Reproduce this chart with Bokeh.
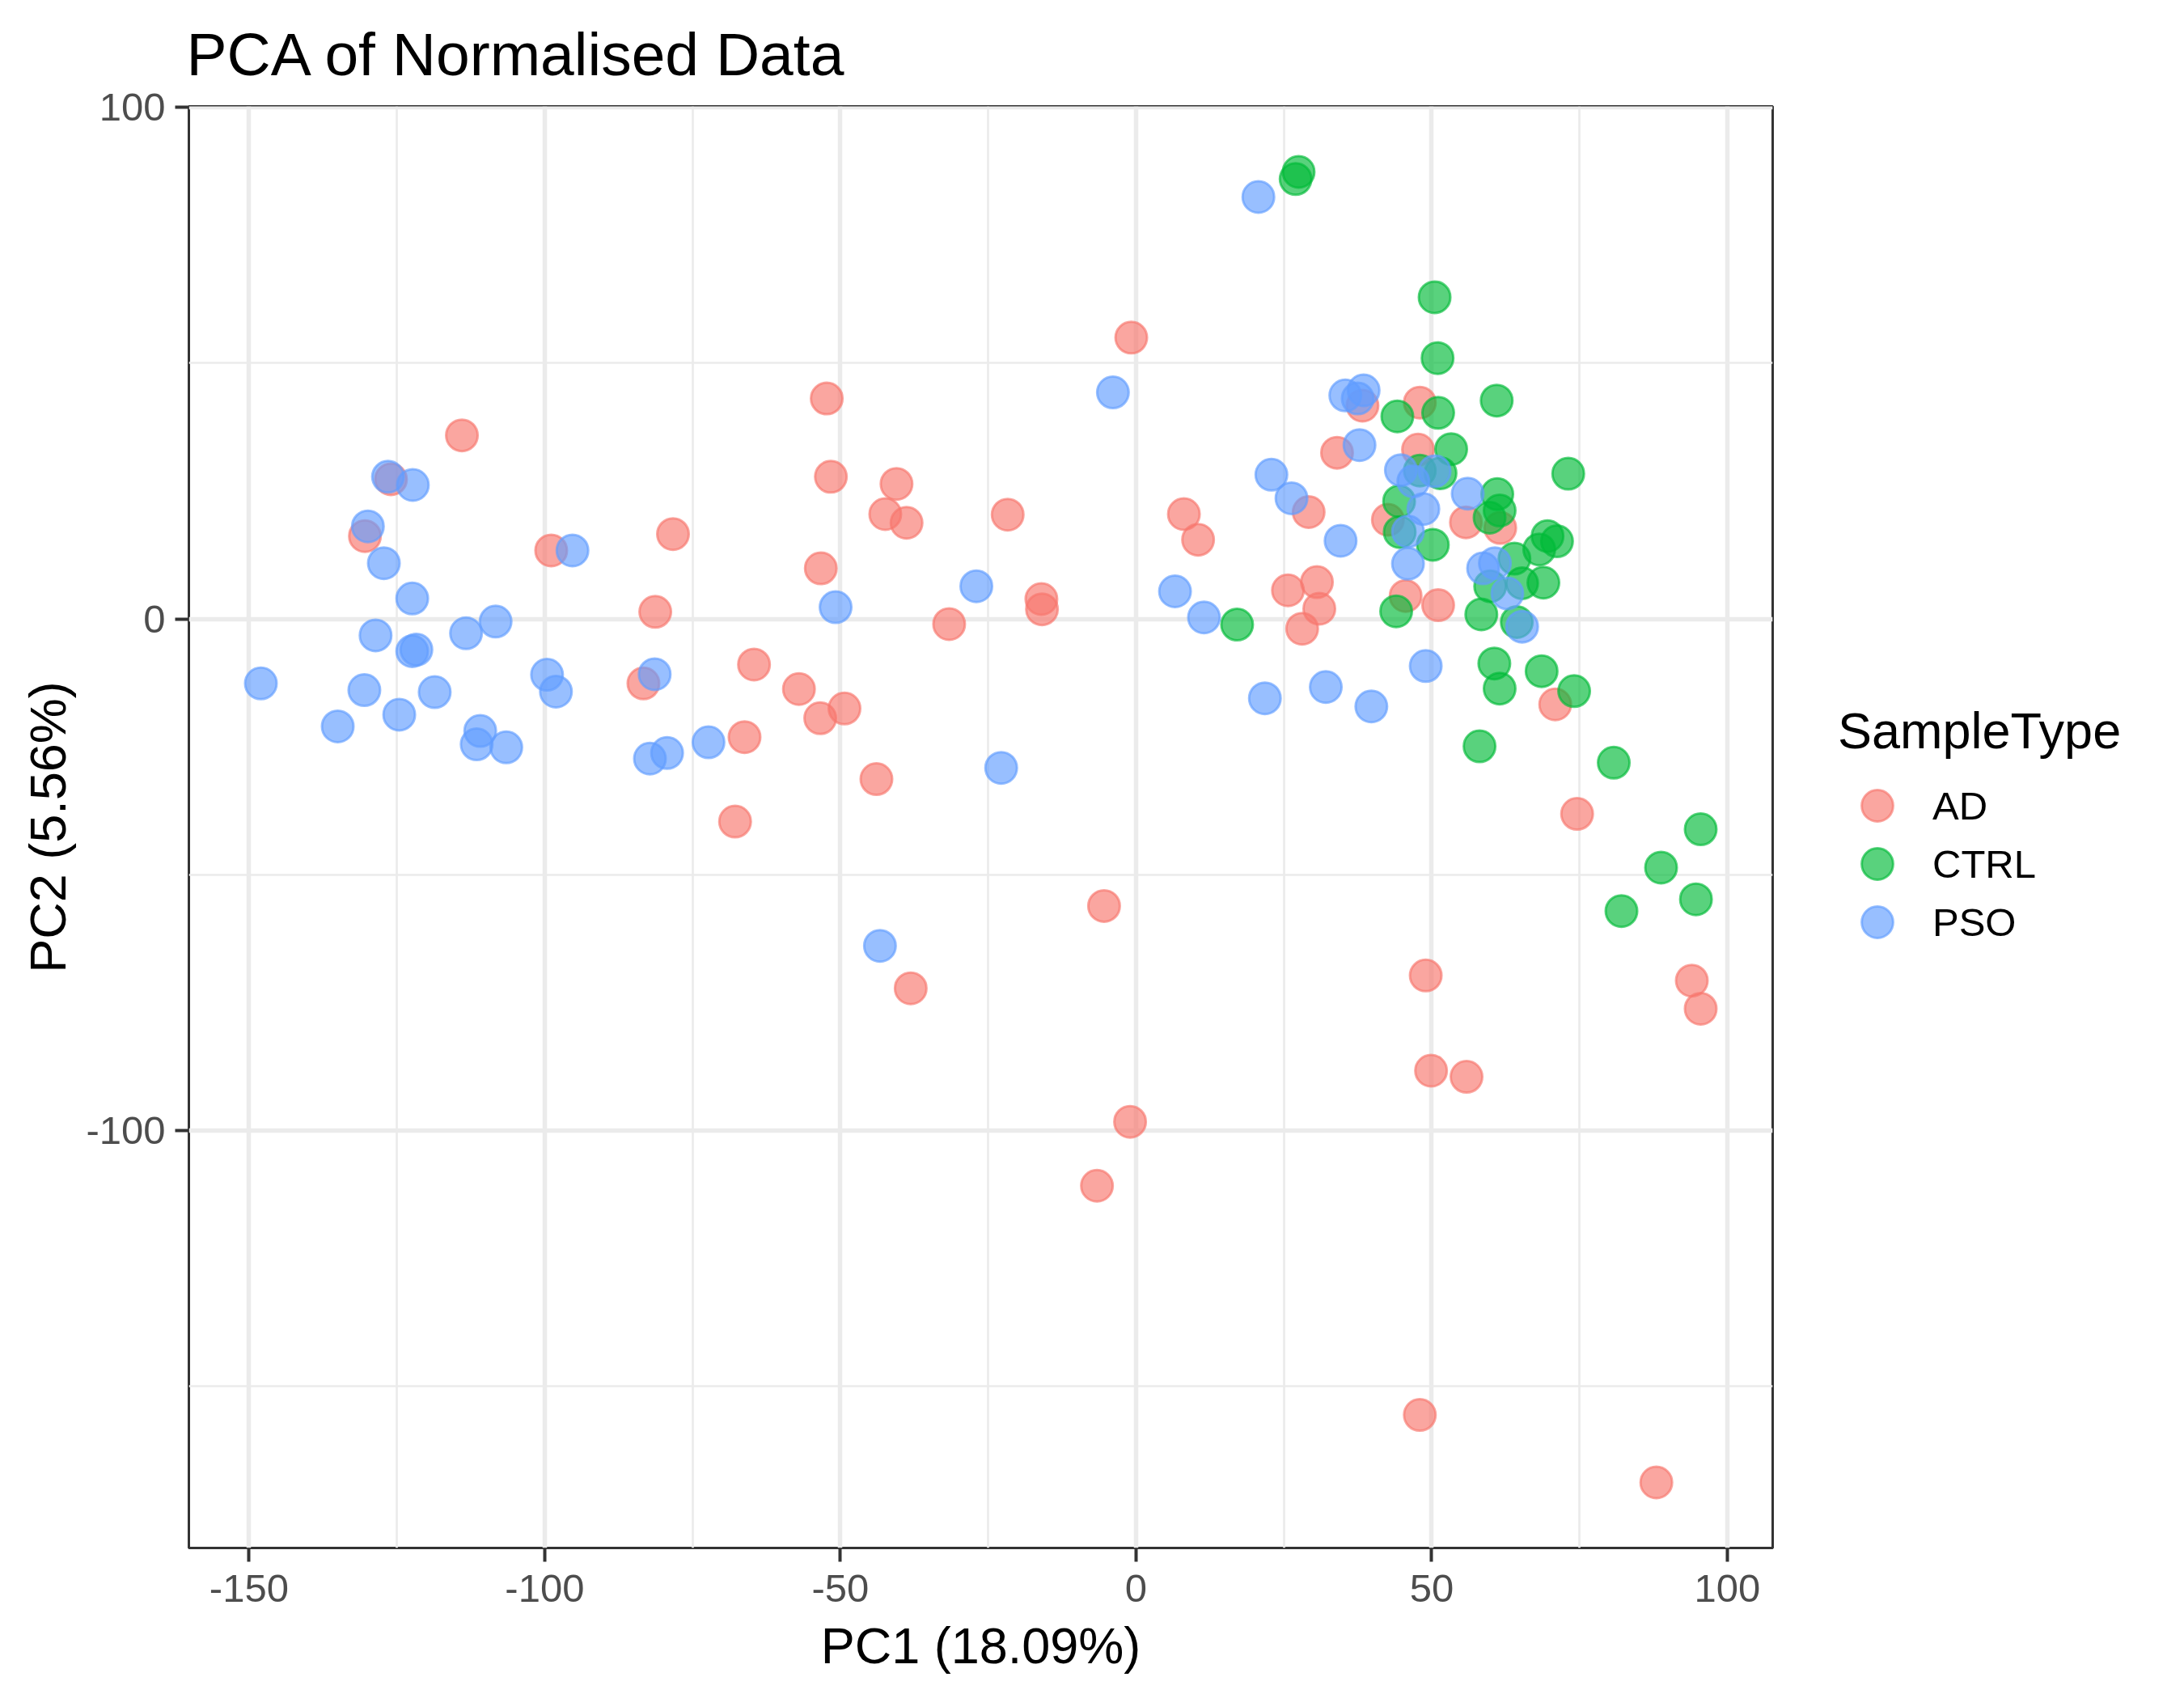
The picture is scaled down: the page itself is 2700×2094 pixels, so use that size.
from bokeh.plotting import figure
from bokeh.layouts import row
from bokeh.models import Range1d, FixedTicker, Legend, LegendItem
from bokeh.embed import file_html
from bokeh.resources import INLINE

# PCA scores, one pair of lists per sample type
ad_pc1 = [-130.4, -126.0, -114.0, -98.9, -83.3, -81.3, -78.3, -67.8, -66.2, -64.6,
          -57.0, -53.4, -53.3, -52.3, -51.6, -49.3, -43.9, -42.4, -40.5, -38.8,
          -38.1, -31.6, -21.7, -16.0, -15.9, -5.4, -6.6, -1.0, -0.8, 8.1,
          10.5, 25.7, 28.1, 29.2, 30.6, 31.0, 34.0, 38.3, 42.6, 45.6,
          47.7, 48.0, 48.0, 49.0, 49.9, 51.1, 55.8, 55.9, 61.6, 70.9,
          74.6, 88.0, 94.0, 95.5]
ad_pc2 = [16.2, 27.3, 35.9, 13.4, -12.6, 1.4, 16.6, -39.6, -23.1, -8.9,
          -13.7, -19.4, 9.9, 43.1, 27.8, -17.5, -31.3, 20.5, 26.4, 18.8,
          -72.2, -1.0, 20.4, 3.9, 1.9, -56.1, -110.8, -98.3, 55.0, 20.5,
          15.5, 5.6, -1.9, 20.9, 7.2, 2.0, 32.5, 41.7, 19.4, 4.5,
          33.1, 42.3, -155.6, -69.7, -88.3, 2.7, 18.9, -89.5, 17.8, -16.7,
          -38.1, -168.8, -70.7, -76.2]

ctrl_pc1 = [17.1, 27.0, 27.5, 44.0, 44.2, 44.5, 44.6, 48.0, 50.2, 50.5,
            51.0, 51.1, 51.5, 53.3, 58.1, 58.4, 59.8, 59.9, 60.6, 61.0,
            61.1, 61.5, 61.5, 64.0, 64.4, 65.3, 68.2, 68.6, 68.9, 69.6,
            71.2, 73.1, 74.1, 80.8, 82.1, 88.8, 94.7, 95.5]
ctrl_pc2 = [-1.1, 86.0, 87.4, 1.5, 39.6, 23.0, 17.0, 29.0, 14.5, 62.9,
            51.0, 40.3, 28.5, 33.2, -24.9, 0.9, 19.8, 6.4, -8.7, 42.7,
            24.4, 21.2, -13.6, 11.8, -0.6, 7.0, 13.6, -10.2, 7.1, 16.2,
            15.2, 28.4, -14.1, -28.1, -57.1, -48.6, -54.8, -41.1]

pso_pc1 = [-148.0, -135.0, -130.5, -129.9, -128.6, -127.2, -126.5, -124.6, -122.4, -122.4,
           -122.3, -121.7, -118.6, -113.3, -111.5, -110.9, -108.3, -106.5, -99.6, -98.1,
           -95.3, -82.2, -81.4, -79.3, -72.3, -50.8, -43.3, -27.0, -22.8, -3.9,
           6.6, 11.5, 20.7, 21.8, 22.9, 26.3, 32.1, 34.6, 35.4, 37.5,
           37.8, 38.5, 39.8, 44.8, 46.0, 46.0, 46.9, 48.6, 49.0, 50.5,
           56.1, 58.7, 60.7, 62.8, 65.3]
pso_pc2 = [-12.6, -21.0, -13.9, 18.1, -3.2, 10.9, 27.8, -18.7, 4.0, -6.3,
           26.2, -6.0, -14.3, -2.8, -24.5, -21.9, -0.5, -25.1, -10.9, -14.2,
           13.4, -27.3, -10.8, -26.2, -24.1, 2.3, -63.9, 6.4, -29.1, 44.3,
           5.4, 0.3, 82.5, -15.5, 28.2, 23.6, -13.3, 15.3, 43.7, 43.1,
           34.0, 44.7, -17.1, 29.1, 17.1, 10.8, 26.9, 21.5, -9.2, 28.9,
           24.5, 9.9, 10.9, 5.0, -1.5]

groups = ["AD", "CTRL", "PSO"]
colors = ["#F8766D", "#00BA38", "#619CFF"]

x_ticks = [-150, -100, -50, 0, 50, 100]
x_minor = [-125, -75, -25, 25, 75]
y_ticks = [-100, 0, 100]
y_minor = [-150, -50, 50]

# ggplot-style 5% expansion of the data range
all_x = ad_pc1 + ctrl_pc1 + pso_pc1
all_y = ad_pc2 + ctrl_pc2 + pso_pc2
dx = (max(all_x) - min(all_x)) * 0.05
dy = (max(all_y) - min(all_y)) * 0.05

FONT = "Liberation Sans"
H = 2078
MAIN_W = 2195
LEG_W = 2684 - MAIN_W

p = figure(width=MAIN_W, height=H, output_backend="svg", toolbar_location=None,
           x_range=Range1d(min(all_x) - dx, max(all_x) + dx),
           y_range=Range1d(min(all_y) - dy, max(all_y) + dy),
           min_border_left=233, min_border_right=4,
           min_border_top=131, min_border_bottom=165)

p.title.text = "PCA of Normalised Data"
p.title.text_font = FONT
p.title.text_font_size = "75px"
p.title.text_font_style = "normal"
p.title.text_color = "black"
p.title.align = "left"
p.title.vertical_align = "top"
p.title.standoff = 41
p.title.offset = -3

p.background_fill_color = "white"
p.border_fill_color = "white"
p.outline_line_color = "#333333"
p.outline_line_width = 3

for ax in (p.xaxis, p.yaxis):
    ax.axis_line_color = None
    ax.major_tick_line_color = "#333333"
    ax.major_tick_line_width = 4
    ax.major_tick_out = 17
    ax.major_tick_in = 0
    ax.minor_tick_line_color = None
    ax.major_label_text_font = FONT
    ax.major_label_text_font_size = "49px"
    ax.major_label_text_color = "#4D4D4D"
    ax.axis_label_text_font = FONT
    ax.axis_label_text_font_size = "63px"
    ax.axis_label_text_font_style = "normal"
    ax.axis_label_text_color = "black"

p.xaxis.ticker = FixedTicker(ticks=x_ticks, minor_ticks=x_minor)
p.yaxis.ticker = FixedTicker(ticks=y_ticks, minor_ticks=y_minor)
# plain hyphen minus like R, not the unicode minus
p.xaxis.major_label_overrides = {t: str(t) for t in x_ticks}
p.yaxis.major_label_overrides = {t: str(t) for t in y_ticks}
p.xaxis.axis_label = "PC1 (18.09%)"
p.yaxis.axis_label = "PC2 (5.56%)"
p.xaxis.major_label_standoff = 16
p.xaxis.axis_label_standoff = 16
p.yaxis.major_label_standoff = 12
p.yaxis.axis_label_standoff = 9

for g in (p.xgrid, p.ygrid):
    g.grid_line_color = "#EBEBEB"
    g.grid_line_width = 5.5
    g.minor_grid_line_color = "#EBEBEB"
    g.minor_grid_line_width = 2.7
    g.level = "underlay"

point_style = dict(size=39, marker="circle", fill_alpha=0.65, line_alpha=0.65, line_width=3)

series = [(ad_pc1, ad_pc2), (ctrl_pc1, ctrl_pc2), (pso_pc1, pso_pc2)]
for col, (xs, ys) in zip(colors, series):
    p.scatter(xs, ys, fill_color=col, line_color=col, **point_style)

# legend lives in its own narrow panel to the right (like ggplot's guide box)
leg = figure(width=LEG_W, height=H, output_backend="svg", toolbar_location=None,
             x_range=Range1d(0, 1), y_range=Range1d(0, 1),
             x_axis_type=None, y_axis_type=None, min_border=0)
leg.outline_line_color = None
leg.background_fill_color = "white"
leg.border_fill_color = "white"

nan = float("nan")
row_pitch = 72.2
for i, (name, col) in enumerate(zip(groups, colors)):
    # key-only renderer: one NaN row so the legend has a glyph to draw
    key = leg.scatter([nan], [nan], fill_color=col, line_color=col, **point_style)
    lg = Legend(items=[LegendItem(label=name, renderers=[key])])
    if i == 0:
        lg.title = "SampleType"
        lg.title_text_font = FONT
        lg.title_text_font_size = "63px"
        lg.title_text_font_style = "normal"
        lg.title_text_color = "black"
        lg.title_standoff = 8
    lg.label_text_font = FONT
    lg.label_text_font_size = "49px"
    lg.label_text_color = "black"
    lg.glyph_width = 97
    lg.glyph_height = 97
    lg.label_standoff = 20
    lg.padding = 0
    lg.margin = 0
    lg.border_line_color = None
    lg.background_fill_alpha = 0
    lg.location = (77, 869 - i * row_pitch)
    leg.add_layout(lg)

layout = row(p, leg)
open("out.html", "w").write(file_html(layout, INLINE))
